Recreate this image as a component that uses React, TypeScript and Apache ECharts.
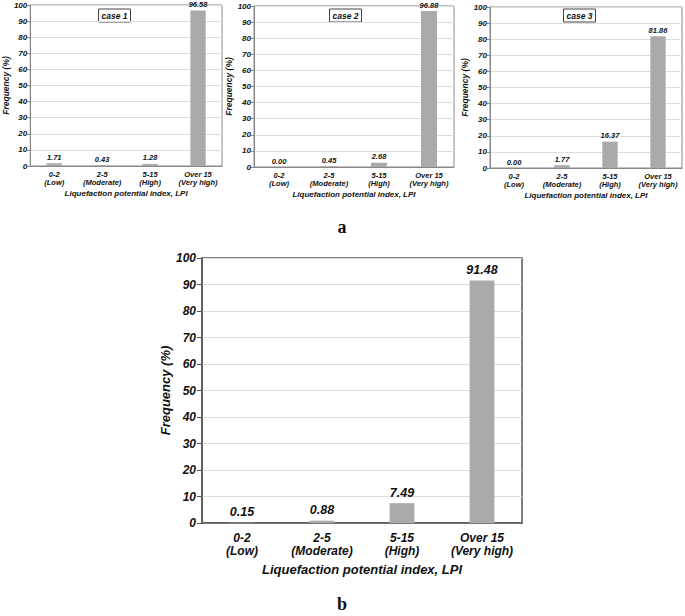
import React, { useEffect, useRef } from "react";
import * as echarts from "echarts";

const categories = ["0-2\n(Low)", "2-5\n(Moderate)", "5-15\n(High)", "Over 15\n(Very high)"];
const case1 = [1.71, 0.43, 1.28, 96.58];
const case2 = [0.0, 0.45, 2.68, 96.88];
const case3 = [0.0, 1.77, 16.37, 81.86];
const overall = [0.15, 0.88, 7.49, 91.48];
const caseNames = ["case 1", "case 2", "case 3"];
const xAxisName = "Liquefaction potential index, LPI";
const yAxisName = "Frequency (%)";

const FONT = "Liberation Sans, Arial, sans-serif";
const BAR = "#aaaaaa";

type G = { left: number; top: number; width: number; height: number; big: boolean; yGap: number };

const grids: G[] = [
  { left: 24, top: 5, width: 198, height: 161, big: false, yGap: 15 },
  { left: 254, top: 6, width: 200, height: 161, big: false, yGap: 16 },
  { left: 490, top: 7, width: 192, height: 161, big: false, yGap: 21 },
  { left: 202, top: 258, width: 320, height: 265, big: true, yGap: 29 },
];
const datasets = [case1, case2, case3, overall];
const caseBoxes = [
  { cx: 114.5, cy: 15.5 },
  { cx: 345.5, cy: 15.5 },
  { cx: 579.5, cy: 15.5 },
];

export default function App() {
  const ref = useRef<HTMLDivElement>(null);
  useEffect(() => {
    if (!ref.current) return;
    const chart = echarts.init(ref.current, undefined, { renderer: "svg" });
    const option: any = {
      animation: false,
      backgroundColor: "#ffffff",
      grid: grids.map((g) => ({
        left: g.left,
        top: g.top,
        width: g.width,
        height: g.height,
        show: true,
        borderColor: g.big ? "#555555" : "#888888",
        borderWidth: g.big ? 1.5 : 1,
        backgroundColor: "transparent",
      })),
      xAxis: grids.map((g, i) => ({
        type: "category",
        gridIndex: i,
        data: categories,
        name: xAxisName,
        nameLocation: "middle",
        nameGap: g.big ? 40 : 23,
        nameTextStyle: {
          fontFamily: FONT,
          fontStyle: "italic",
          fontWeight: "bold",
          fontSize: g.big ? 13 : 8,
          color: "#111",
        },
        axisLine: { show: true, lineStyle: { color: g.big ? "#555555" : "#888888", width: g.big ? 1.5 : 1 } },
        axisTick: { show: false },
        axisLabel: {
          interval: 0,
          margin: g.big ? 8 : 4,
          fontFamily: FONT,
          fontStyle: "italic",
          fontWeight: "bold",
          fontSize: g.big ? 12 : 7.5,
          lineHeight: g.big ? 13 : 8,
          color: "#111",
        },
        splitLine: { show: false },
      })),
      yAxis: grids.map((g, i) => ({
        type: "value",
        gridIndex: i,
        min: 0,
        max: 100,
        interval: 10,
        name: yAxisName,
        nameLocation: "middle",
        nameGap: g.yGap,
        nameTextStyle: {
          fontFamily: FONT,
          fontStyle: "italic",
          fontWeight: "bold",
          fontSize: g.big ? 13 : 8.5,
          color: "#111",
        },
        axisLine: { show: true, lineStyle: { color: g.big ? "#555555" : "#888888", width: g.big ? 1.5 : 1 } },
        axisTick: { show: true, length: g.big ? 5 : 3, lineStyle: { color: g.big ? "#555555" : "#888888" } },
        axisLabel: {
          margin: g.big ? 6 : 3,
          fontFamily: FONT,
          fontStyle: "italic",
          fontWeight: "bold",
          fontSize: g.big ? 12 : 8,
          color: "#111",
        },
        splitLine: { show: true, lineStyle: { color: "#dddddd", width: 1 } },
      })),
      series: datasets.map((d, i) => ({
        type: "bar",
        xAxisIndex: i,
        yAxisIndex: i,
        data: d,
        barWidth: grids[i].big ? "31%" : "32%",
        itemStyle: { color: BAR },
        label: {
          show: true,
          position: "top",
          distance: grids[i].big ? 4 : 2,
          formatter: (p: any) => Number(p.value).toFixed(2),
          fontFamily: FONT,
          fontStyle: "italic",
          fontWeight: "bold",
          fontSize: grids[i].big ? 12.5 : 7.5,
          color: "#111",
        },
      })),
      graphic: [
        ...caseBoxes.map((b, i) => ({
          type: "group",
          children: [
            {
              type: "rect",
              shape: { x: b.cx - 16, y: b.cy - 6.5, width: 32, height: 13 },
              style: { fill: "#ffffff", stroke: "#444444", lineWidth: 1 },
            },
            {
              type: "text",
              x: b.cx,
              y: b.cy,
              style: {
                text: caseNames[i],
                fontFamily: FONT,
                fontStyle: "italic",
                fontWeight: "bold",
                fontSize: 8.5,
                fill: "#111",
                align: "center",
                verticalAlign: "middle",
              },
            },
          ],
        })),
        {
          type: "text",
          x: 342,
          y: 227,
          style: {
            text: "a",
            fontFamily: "Liberation Serif, serif",
            fontWeight: "bold",
            fontSize: 18,
            fill: "#111",
            align: "center",
            verticalAlign: "middle",
          },
        },
        {
          type: "text",
          x: 342,
          y: 604,
          style: {
            text: "b",
            fontFamily: "Liberation Serif, serif",
            fontWeight: "bold",
            fontSize: 18,
            fill: "#111",
            align: "center",
            verticalAlign: "middle",
          },
        },
      ],
    };
    chart.setOption(option);
    return () => chart.dispose();
  }, []);
  return (
    <div
      ref={ref}
      style={{ position: "fixed", left: 0, top: 0, width: 685, height: 616, background: "#fff" }}
    />
  );
}
